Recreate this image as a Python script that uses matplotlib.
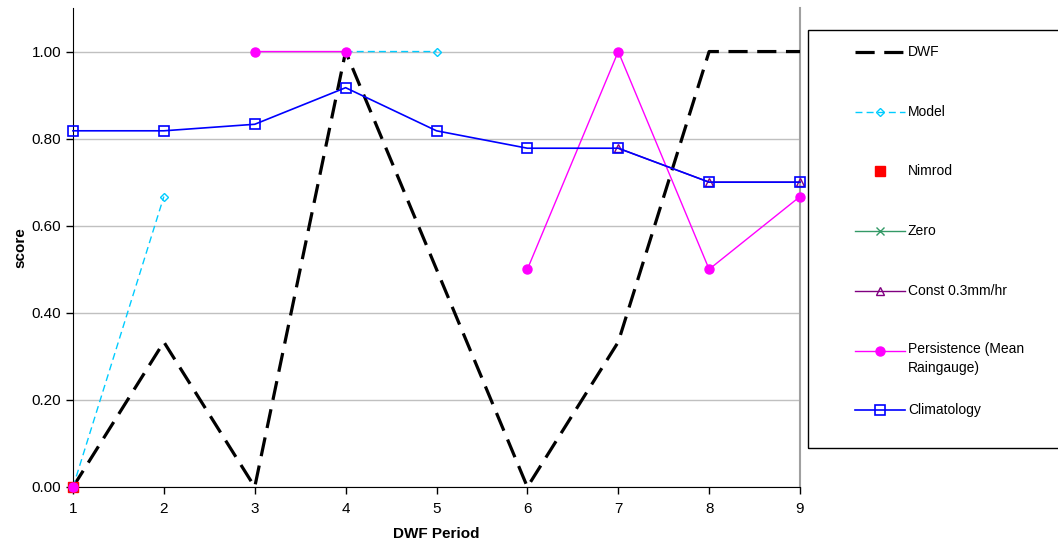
import numpy as np
import matplotlib
matplotlib.use('Agg')
import matplotlib.pyplot as plt
from matplotlib.patches import Rectangle
from matplotlib.lines import Line2D

plt.rcParams['font.family'] = ['Liberation Sans', 'DejaVu Sans']

nan = np.nan
periods = [1, 2, 3, 4, 5, 6, 7, 8, 9]
dwf = [0.0, 0.333, 0.0, 1.0, 0.5, 0.0, 0.333, 1.0, 1.0]
model = [0.0, 0.667, nan, 1.0, 1.0, nan, nan, nan, nan]
nimrod = [0.0, nan, nan, nan, nan, nan, nan, nan, nan]
zero = [0.0, nan, nan, nan, nan, nan, nan, nan, nan]
const = [nan, nan, nan, nan, nan, nan, 0.778, 0.70, 0.70]
persistence = [0.0, nan, 1.0, 1.0, nan, 0.5, 1.0, 0.5, 0.667]
climatology = [0.818, 0.818, 0.833, 0.917, 0.818, 0.778, 0.778, 0.70, 0.70]

W, H = 1058, 547
fig = plt.figure(figsize=(W / 100, H / 100), dpi=100)
ax = fig.add_axes([73/W, 60/H, 727/W, 479/H])

h_dwf, = ax.plot(periods, dwf, color='black', lw=2.3, dashes=(6, 3), label='DWF', zorder=3)
h_model, = ax.plot(periods, model, color='#00CCFF', lw=1, dashes=(5, 3), marker='D',
                   markersize=4, markerfacecolor='none', markeredgecolor='#00CCFF',
                   label='Model', zorder=4)
h_nim, = ax.plot(periods, nimrod, color='#FF0000', lw=0, marker='s', markersize=6.5,
                 label='Nimrod', zorder=4)
h_zero, = ax.plot(periods, zero, color='#339966', lw=1, marker='x', markersize=6,
                  label='Zero', zorder=4)
h_const, = ax.plot(periods, const, color='#800080', lw=1, marker='^', markersize=6,
                   markerfacecolor='none', label='Const 0.3mm/hr', zorder=4)
h_pers, = ax.plot(periods, persistence, color='#FF00FF', lw=1, marker='o', markersize=6.5,
                  label='Persistence (Mean\nRaingauge)', zorder=5)
h_clim, = ax.plot(periods, climatology, color='#0000FF', lw=1.2, marker='s', markersize=7,
                  markerfacecolor='none', markeredgewidth=1.2, label='Climatology', zorder=5)
handles = [h_dwf, h_model, h_nim, h_zero, h_const, h_pers, h_clim]
for h in handles:
    h.set_clip_on(False)

ax.set_xlim(1, 9)
ax.set_ylim(0, 1.1)
ax.set_xticks(periods)
yt = np.arange(0, 1.01, 0.2)
ax.set_yticks(yt)
ax.set_yticklabels([f'{v:.2f}' for v in yt])
ax.tick_params(labelsize=11, direction='out', length=5, width=1)
ax.tick_params(axis='x', pad=6)
ax.grid(axis='y', color='#C0C0C0', lw=1)
ax.set_axisbelow(True)
ax.spines['top'].set_visible(False)
ax.spines['right'].set_color('#A0A0A0')
ax.spines['right'].set_linewidth(1.5)

ax.set_xlabel('DWF Period', fontsize=11, fontweight='bold', labelpad=8)
ax.set_ylabel('score', fontsize=11, fontweight='bold', labelpad=3)

# legend box, running off the right edge as in the original
fig.patches.append(Rectangle((808/W, 99/H), 0.5, 418/H, transform=fig.transFigure,
                             fill=False, edgecolor='black', lw=1))
for i, h in enumerate(handles):
    yc = 1 - (52 + i * 59.7) / H
    seg = Line2D([855/W, 905/W], [yc, yc], transform=fig.transFigure,
                 color=h.get_color(), lw=h.get_linewidth(), marker='None')
    if h is h_dwf:
        seg.set_dashes((6, 3))
    elif h is h_model:
        seg.set_dashes((5, 3))
    fig.lines.append(seg)
    fig.lines.append(Line2D([880/W], [yc], transform=fig.transFigure, lw=0,
                            marker=h.get_marker(), markersize=h.get_markersize(),
                            markerfacecolor=h.get_markerfacecolor(),
                            markeredgecolor=h.get_markeredgecolor(),
                            markeredgewidth=h.get_markeredgewidth()))
    label = h.get_label()
    if '\n' in label:
        fig.text(908/W, yc + 8/H, label, fontsize=10, va='top', linespacing=1.4)
    else:
        fig.text(908/W, yc, label, fontsize=10, va='center')

plt.savefig('out.png', dpi=100)
